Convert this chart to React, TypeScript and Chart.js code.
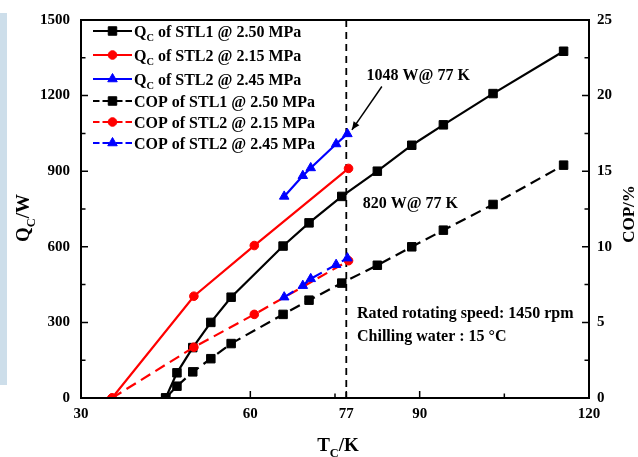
import React, { useEffect, useRef } from "react";
import { Chart, registerables } from "chart.js";

Chart.register(...registerables);

const FONT = '"Liberation Serif", "Times New Roman", serif';

// ---- data ----
const tempSTL1 = [45, 47, 49.8, 53, 56.6, 65.8, 70.4, 76.2, 82.5, 88.6, 94.2, 103, 115.5];
const qcSTL1 = [0, 100, 200, 300, 400, 603, 695, 800, 900, 1003, 1084, 1208, 1376];
const copSTL1 = [0, 0.78, 1.73, 2.6, 3.6, 5.53, 6.47, 7.6, 8.78, 10.0, 11.1, 12.8, 15.4];

const tempSTL2a = [35.5, 50, 60.7, 77.4];
const qcSTL2a = [0, 404, 605, 911];
const copSTL2a = [0, 3.36, 5.53, 9.08];

const tempSTL2b = [66, 69.3, 70.7, 75.2, 77.2];
const qcSTL2b = [800, 882, 913, 1008, 1048];
const copSTL2b = [6.67, 7.43, 7.88, 8.82, 9.25];

const xLabelTicks = [30, 60, 77, 90, 120];
const xMinorTicks = [45, 75, 105];

const seriesLabels = [
  "Q_C of STL1 @ 2.50 MPa",
  "Q_C of STL2 @ 2.15 MPa",
  "Q_C of STL2 @ 2.45 MPa",
  "COP of STL1 @ 2.50 MPa",
  "COP of STL2 @ 2.15 MPa",
  "COP of STL2 @ 2.45 MPa",
];
const seriesColors = ["#000000", "#ff0000", "#0000ff", "#000000", "#ff0000", "#0000ff"];
const seriesMarkers = ["rect", "circle", "triangle", "rect", "circle", "triangle"];
const seriesDashed = [false, false, false, true, true, true];

const noteTexts = ["1048 W@ 77 K", "820 W@ 77 K", "Rated rotating speed: 1450 rpm", "Chilling water : 15 \u00B0C"];

// ---- drawing helpers ----
const markerRadius: Record<string, number> = { rect: 6, circle: 4.3, triangle: 5.5 };

function drawMarker(ctx: CanvasRenderingContext2D, style: string, x: number, y: number, color: string) {
  const r = markerRadius[style];
  ctx.save();
  ctx.setLineDash([]);
  ctx.fillStyle = color;
  ctx.strokeStyle = color;
  ctx.lineWidth = 1;
  ctx.beginPath();
  if (style === "rect") {
    const s = Math.SQRT1_2 * r;
    ctx.rect(x - s, y - s, 2 * s, 2 * s);
  } else if (style === "circle") {
    ctx.arc(x, y, r, 0, Math.PI * 2);
  } else {
    let rad = 0;
    ctx.moveTo(x + Math.sin(rad) * r, y - Math.cos(rad) * r);
    rad += (2 * Math.PI) / 3;
    ctx.lineTo(x + Math.sin(rad) * r, y - Math.cos(rad) * r);
    rad += (2 * Math.PI) / 3;
    ctx.lineTo(x + Math.sin(rad) * r, y - Math.cos(rad) * r);
    ctx.closePath();
  }
  ctx.fill();
  ctx.stroke();
  ctx.restore();
}

type Part = { t: string; sub?: boolean };
function parseParts(s: string): Part[] {
  const i = s.indexOf("_");
  if (i < 0) return [{ t: s }];
  return [{ t: s.slice(0, i) }, { t: s.slice(i + 1, i + 2), sub: true }, { t: s.slice(i + 2) }];
}
function partsWidth(ctx: CanvasRenderingContext2D, parts: Part[], size: number) {
  let w = 0;
  for (const p of parts) {
    ctx.font = `bold ${p.sub ? size * 0.65 : size}px ${FONT}`;
    w += ctx.measureText(p.t).width;
  }
  return w;
}
function drawParts(ctx: CanvasRenderingContext2D, parts: Part[], x: number, baseline: number, size: number) {
  let cx = x;
  ctx.textBaseline = "alphabetic";
  ctx.textAlign = "left";
  for (const p of parts) {
    const fs = p.sub ? size * 0.65 : size;
    ctx.font = `bold ${fs}px ${FONT}`;
    ctx.fillText(p.t, cx, baseline + (p.sub ? size * 0.3 : 0));
    cx += ctx.measureText(p.t).width;
  }
}

const customPlugin = {
  id: "customDraw",
  beforeDraw(chart: any) {
    const ctx: CanvasRenderingContext2D = chart.ctx;
    ctx.save();
    ctx.fillStyle = "#ffffff";
    ctx.fillRect(0, 0, chart.width, chart.height);
    ctx.fillStyle = "#cddeea";
    ctx.fillRect(0, 13, 7, 372);
    ctx.restore();
  },
  beforeDatasetsDraw(chart: any) {
    const { ctx, chartArea: a, scales } = chart;
    const x77 = scales.x.getPixelForValue(77);
    ctx.save();
    ctx.strokeStyle = "#000";
    ctx.lineWidth = 1.8;
    ctx.setLineDash([7, 5]);
    ctx.beginPath();
    ctx.moveTo(x77, a.top);
    ctx.lineTo(x77, a.bottom);
    ctx.stroke();
    ctx.restore();
  },
  afterDraw(chart: any) {
    const ctx: CanvasRenderingContext2D = chart.ctx;
    const a = chart.chartArea;
    const sx = chart.scales.x;
    const sy = chart.scales.y;
    const sy1 = chart.scales.y1;
    ctx.save();
    ctx.setLineDash([]);
    ctx.strokeStyle = "#000";
    ctx.fillStyle = "#000";

    // frame
    ctx.lineWidth = 2;
    ctx.strokeRect(a.left, a.top, a.right - a.left, a.bottom - a.top);

    // inward ticks
    ctx.lineWidth = 1.5;
    ctx.beginPath();
    for (const v of xLabelTicks) {
      const px = sx.getPixelForValue(v);
      ctx.moveTo(px, a.bottom);
      ctx.lineTo(px, a.bottom - 7);
    }
    for (const v of xMinorTicks) {
      const px = sx.getPixelForValue(v);
      ctx.moveTo(px, a.bottom);
      ctx.lineTo(px, a.bottom - 4.5);
    }
    for (let v = 0; v <= 1500; v += 150) {
      const py = sy.getPixelForValue(v);
      const len = v % 300 === 0 ? 7 : 4.5;
      ctx.moveTo(a.left, py);
      ctx.lineTo(a.left + len, py);
    }
    for (let v = 0; v <= 25; v += 2.5) {
      const py = sy1.getPixelForValue(v);
      const len = v % 5 === 0 ? 7 : 4.5;
      ctx.moveTo(a.right, py);
      ctx.lineTo(a.right - len, py);
    }
    ctx.stroke();

    // legend
    const rows = [31, 55, 79, 101, 122, 143];
    const lx0 = a.left + 12;
    const lx1 = a.left + 51;
    const mx = (lx0 + lx1) / 2;
    seriesLabels.forEach((lab, i) => {
      const y = rows[i];
      ctx.save();
      ctx.strokeStyle = seriesColors[i];
      ctx.lineWidth = 2.2;
      ctx.setLineDash(seriesDashed[i] ? [6.5, 3] : []);
      ctx.beginPath();
      if (seriesDashed[i]) {
        ctx.moveTo(lx0, y);
        ctx.lineTo(mx, y);
        ctx.moveTo(lx1, y);
        ctx.lineTo(mx, y);
      } else {
        ctx.moveTo(lx0, y);
        ctx.lineTo(lx1, y);
      }
      ctx.stroke();
      ctx.restore();
      drawMarker(ctx, seriesMarkers[i], mx, y, seriesColors[i]);
      ctx.fillStyle = "#000";
      drawParts(ctx, parseParts(lab), lx1 + 2, y + 5.5, 16);
    });

    // annotations
    ctx.fillStyle = "#000";
    const put = (t: string, xv: number, qv: number) => {
      drawParts(ctx, [{ t }], sx.getPixelForValue(xv), sy.getPixelForValue(qv) + 5.5, 16);
    };
    put(noteTexts[0], 80.6, 1283);
    put(noteTexts[1], 79.9, 775);
    put(noteTexts[2], 78.9, 341);
    put(noteTexts[3], 78.9, 249);

    // arrow
    const ax0 = sx.getPixelForValue(83.3), ay0 = sy.getPixelForValue(1236);
    const ax1 = sx.getPixelForValue(78.0), ay1 = sy.getPixelForValue(1064);
    ctx.lineWidth = 1.5;
    ctx.beginPath();
    ctx.moveTo(ax0, ay0);
    ctx.lineTo(ax1, ay1);
    ctx.stroke();
    const ang = Math.atan2(ay1 - ay0, ax1 - ax0);
    const hl = 8, hw = 3.5;
    ctx.beginPath();
    ctx.moveTo(ax1, ay1);
    ctx.lineTo(ax1 - hl * Math.cos(ang) + hw * Math.sin(ang), ay1 - hl * Math.sin(ang) - hw * Math.cos(ang));
    ctx.lineTo(ax1 - hl * Math.cos(ang) - hw * Math.sin(ang), ay1 - hl * Math.sin(ang) + hw * Math.cos(ang));
    ctx.closePath();
    ctx.fill();

    // axis titles
    const tsize = 19;
    const xt = parseParts("T_C/K");
    const xw = partsWidth(ctx, xt, tsize);
    drawParts(ctx, xt, 338 - xw / 2, 451, tsize);
    const yt = parseParts("Q_C/W");
    const yw = partsWidth(ctx, yt, tsize);
    ctx.save();
    ctx.translate(29, 218);
    ctx.rotate(-Math.PI / 2);
    drawParts(ctx, yt, -yw / 2, 0, tsize);
    ctx.restore();
    const rt = parseParts("COP/%");
    const rsize = 17;
    const rw = partsWidth(ctx, rt, rsize);
    ctx.save();
    ctx.translate(634, 214);
    ctx.rotate(-Math.PI / 2);
    drawParts(ctx, rt, -rw / 2, 0, rsize);
    ctx.restore();

    ctx.restore();
  },
};

function mk(xs: number[], ys: number[], i: number, axis: string) {
  return {
    label: seriesLabels[i],
    data: xs.map((x, k) => ({ x, y: ys[k] })),
    borderColor: seriesColors[i],
    backgroundColor: seriesColors[i],
    borderWidth: 2.2,
    borderDash: seriesDashed[i] ? [11, 6] : [],
    pointStyle: seriesMarkers[i],
    pointRadius: markerRadius[seriesMarkers[i]],
    pointBorderWidth: 1,
    pointBackgroundColor: seriesColors[i],
    pointBorderColor: seriesColors[i],
    yAxisID: axis,
    tension: 0,
    fill: false,
  };
}

export default function App() {
  const ref = useRef<HTMLCanvasElement>(null);
  useEffect(() => {
    const tickFont = { family: FONT, size: 15, weight: "bold" as const };
    const plain = (v: any) => String(v);
    const chart = new Chart(ref.current as HTMLCanvasElement, {
      type: "line",
      data: {
        datasets: [
          mk(tempSTL2b, qcSTL2b, 2, "y"),
          mk(tempSTL2b, copSTL2b, 5, "y1"),
          mk(tempSTL2a, qcSTL2a, 1, "y"),
          mk(tempSTL2a, copSTL2a, 4, "y1"),
          mk(tempSTL1, qcSTL1, 0, "y"),
          mk(tempSTL1, copSTL1, 3, "y1"),
        ] as any,
      },
      options: {
        animation: false,
        responsive: false,
        maintainAspectRatio: false,
        layout: { padding: { top: 18, left: 0, right: 0, bottom: 0 } },
        plugins: { legend: { display: false }, tooltip: { enabled: false } },
        events: [],
        scales: {
          x: {
            type: "linear",
            min: 30,
            max: 120,
            afterBuildTicks: (s: any) => {
              s.ticks = xLabelTicks.map((v) => ({ value: v }));
            },
            afterFit: (s: any) => {
              s.height = 59;
            },
            grid: { display: false, drawTicks: false, tickLength: 0 },
            border: { display: false },
            ticks: { font: tickFont, color: "#000", padding: 7, maxRotation: 0, autoSkip: false, callback: plain },
          },
          y: {
            type: "linear",
            position: "left",
            min: 0,
            max: 1500,
            afterFit: (s: any) => {
              s.width = 81;
            },
            grid: { display: false, drawTicks: false, tickLength: 0 },
            border: { display: false },
            ticks: { stepSize: 300, font: tickFont, color: "#000", padding: 11, callback: plain },
          },
          y1: {
            type: "linear",
            position: "right",
            min: 0,
            max: 25,
            afterFit: (s: any) => {
              s.width = 49;
            },
            grid: { display: false, drawTicks: false, tickLength: 0 },
            border: { display: false },
            ticks: { stepSize: 5, font: tickFont, color: "#000", padding: 8, callback: plain },
          },
        },
      } as any,
      plugins: [customPlugin],
    });
    return () => chart.destroy();
  }, []);
  return (
    <div style={{ position: "absolute", left: 0, top: 0, width: 638, height: 457, background: "#fff" }}>
      <canvas ref={ref} width={638} height={457} style={{ display: "block", width: 638, height: 457 }} />
    </div>
  );
}
